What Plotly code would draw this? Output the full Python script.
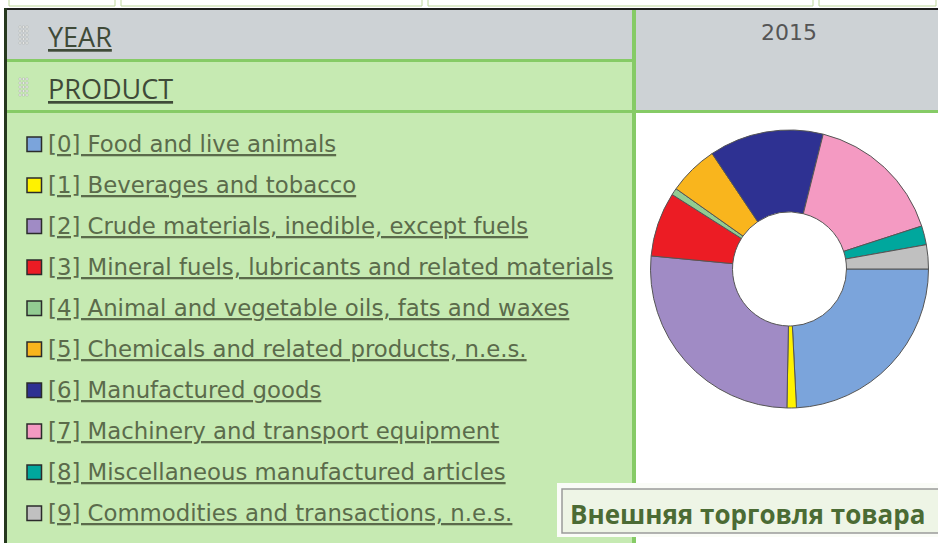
import plotly.graph_objects as go

W, H = 938, 543

year_label = "2015"
categories = [
    "[0] Food and live animals",
    "[1] Beverages and tobacco",
    "[2] Crude materials, inedible, except fuels",
    "[3] Mineral fuels, lubricants and related materials",
    "[4] Animal and vegetable oils, fats and waxes",
    "[5] Chemicals and related products, n.e.s.",
    "[6] Manufactured goods",
    "[7] Machinery and transport equipment",
    "[8] Miscellaneous manufactured articles",
    "[9] Commodities and transactions, n.e.s.",
]
shares = [24.2, 1.1, 26.2, 7.5, 0.8, 5.8, 13.3, 16.1, 2.2, 2.8]
colors = ["#7BA4DB", "#FFF200", "#A08BC5", "#EC1C24", "#92CC92",
          "#F9B51D", "#2E3192", "#F49AC2", "#00A79D", "#C0C0C0"]


def px(x):
    return x / W


def py(y):
    return 1 - y / H


shapes = []


def rect(x0, y0, x1, y1, fill, line=None, lw=0):
    shapes.append(dict(type="rect", xref="paper", yref="paper",
                       x0=px(x0), x1=px(x1), y0=py(y1), y1=py(y0),
                       fillcolor=fill,
                       line=dict(color=line or fill, width=lw), layer="below"))


# top partial input boxes
for a, b in [(9, 115), (121, 422), (428, 813), (819, 936)]:
    rect(a, -3, b, 6, "#FFFFFF", "#BFD89C", 1)

GRAY = "#CDD2D5"
LGREEN = "#C6EAB2"
GLINE = "#86CB66"

# header rows
rect(5, 9, W, 60, GRAY)
rect(5, 60, 634, 112, LGREEN)
rect(636, 60, W, 112, GRAY)
rect(5, 112, 634, H, LGREEN)
rect(636, 112, W, H, "#FFFFFF")
# green separators
rect(5, 59, 634, 62, GLINE)
rect(5, 110, W, 113, GLINE)
rect(632, 9, 636, H, GLINE)
# black top border and dark left border
rect(5, 8, W, 10, "#1E1E1E")
rect(4, 8, 7, H, "#26381E")

# grip dots
for gy0 in (26, 78):
    for r in range(5):
        for c in range(3):
            x = 19 + c * 3.5
            y = gy0 + r * 4
            rect(x, y, x + 2, y + 2, "#F7F7F7", "#A9ADA9", 0.5)

annotations = [
    dict(text="<u>YEAR</u>", x=px(46), y=py(36), xanchor="left", yanchor="middle",
         font=dict(family="Open Sans", size=27, color="#3F4A38")),
    dict(text="<u>PRODUCT</u>", x=px(46), y=py(88), xanchor="left", yanchor="middle",
         font=dict(family="Open Sans", size=27, color="#3F4A38")),
    dict(text=year_label, x=px(789), y=py(33), xanchor="center", yanchor="middle",
         font=dict(family="DejaVu Sans", size=22, color="#555555")),
]

# legend rows
row0, step = 144, 41
for i, (lab, col) in enumerate(zip(categories, colors)):
    yc = row0 + i * step
    shapes.append(dict(type="rect", xref="paper", yref="paper",
                       x0=px(27), x1=px(41.5), y0=py(yc + 7.5), y1=py(yc - 7),
                       fillcolor=col, line=dict(color="#2B2B2B", width=1.5)))
    annotations.append(dict(text="<u>" + lab + "</u>", x=px(46), y=py(yc),
                            xanchor="left", yanchor="middle", showarrow=False,
                            font=dict(family="DejaVu Sans", size=22.8, color="#5B6B4B")))

# tooltip box
rect(557, 483, W + 2, 537, "#FAFCF7")
shapes.append(dict(type="rect", xref="paper", yref="paper",
                   x0=px(562), x1=px(W + 5), y0=py(533), y1=py(489),
                   fillcolor="#EEF5E6", line=dict(color="#9A9A9A", width=1.5)))
annotations.append(dict(text="<b>Внешняя торговля товара</b>", x=px(568), y=py(514),
                        xanchor="left", yanchor="middle", showarrow=False,
                        font=dict(family="Open Sans", size=26, color="#4B6B34")))

for a in annotations:
    a["showarrow"] = False

fig = go.Figure(go.Pie(
    labels=categories, values=shares, hole=0.41, sort=False,
    direction="clockwise", rotation=90, textinfo="none", hoverinfo="label+percent",
    marker=dict(colors=colors, line=dict(color="#555555", width=1)),
    domain=dict(x=[px(650.5), px(928.5)], y=[py(408), py(130)]),
    showlegend=False,
))
fig.update_layout(width=W, height=H, margin=dict(l=0, r=0, t=0, b=0),
                  paper_bgcolor="#FFFFFF", plot_bgcolor="#FFFFFF",
                  shapes=shapes, annotations=annotations, showlegend=False)
fig.write_html("out.html", config={"displayModeBar": False},
               post_script="document.body.style.margin='0px';document.body.style.overflow='hidden';")
